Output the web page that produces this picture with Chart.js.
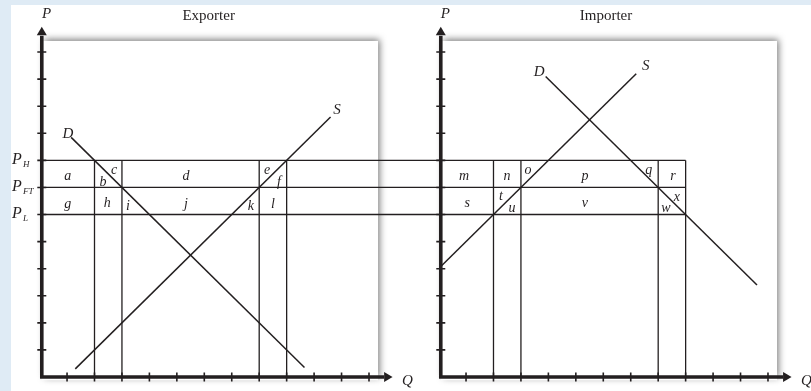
<!DOCTYPE html>
<html lang="en">
<head>
<meta charset="UTF-8" />
<title>Exporter / Importer</title>
<style>
  html, body { margin: 0; padding: 0; background: #dfebf5; }
  canvas { display: block; }
</style>
</head>
<body>
<canvas id="tradeChart" width="811" height="391"></canvas>

<script src="https://cdn.jsdelivr.net/npm/chart.js"></script>
<script>
  // price levels and their subscripts
  const priceNames = ['H', 'FT', 'L'];
  const priceLevels = [8, 7, 6];
  // quantities where the vertical lines stand (same in both markets)
  const cutQuantities = [2, 3, 8, 9];
  const tickCount = 12;

  // curve end points [Q, P]
  const exporterDemand = [[1.15, 8.85], [9.65, 0.35]];
  const exporterSupply = [[1.3, 0.3], [10.6, 9.6]];
  const importerDemand = [[3.9, 11.1], [11.6, 3.4]];
  const importerSupply = [[0.08, 4.08], [7.2, 11.2]];

  // area letters [letter, Q, P]
  const exporterAreas = [
    ['a', 1.03, 7.42], ['b', 2.31, 7.2], ['c', 2.71, 7.64], ['d', 5.33, 7.42],
    ['e', 8.29, 7.64], ['f', 8.72, 7.2], ['g', 1.03, 6.39], ['h', 2.46, 6.43],
    ['i', 3.22, 6.31], ['j', 5.33, 6.39], ['k', 7.7, 6.31], ['l', 8.5, 6.39]
  ];
  const importerAreas = [
    ['m', 0.93, 7.42], ['n', 2.49, 7.42], ['o', 3.26, 7.64], ['p', 5.33, 7.42],
    ['q', 7.66, 7.64], ['r', 8.54, 7.42], ['s', 1.04, 6.43], ['t', 2.27, 6.68],
    ['u', 2.67, 6.24], ['v', 5.33, 6.43], ['w', 8.28, 6.24], ['x', 8.68, 6.65]
  ];

  const INK = '#231f20';
  const SHIFT = 14.535;   // importer panel sits to the right of the exporter one
  const AXIS_Q = 0.08;    // thick axis line is a hair right of Q = 0

  const pts = (arr, s) => arr.map(([q, p]) => ({ x: q + s, y: p }));
  const line = (data, w) => ({
    data, showLine: true, borderColor: INK, borderWidth: w || 1.3,
    pointRadius: 0, fill: false
  });

  const datasets = [];
  // price lines run from the exporter axis through to the importer boxes
  priceLevels.forEach(p => {
    datasets.push(line([{ x: AXIS_Q, y: p }, { x: SHIFT + cutQuantities[3], y: p }]));
  });
  [0, SHIFT].forEach(s => {
    cutQuantities.forEach(q => {
      datasets.push(line([{ x: s + q, y: 0 }, { x: s + q, y: priceLevels[0] }]));
    });
  });
  datasets.push(line(pts(exporterDemand, 0), 1.5));
  datasets.push(line(pts(exporterSupply, 0), 1.5));
  datasets.push(line(pts(importerDemand, SHIFT), 1.5));
  datasets.push(line(pts(importerSupply, SHIFT), 1.5));

  const diagramPlugin = {
    id: 'diagram',
    beforeDatasetsDraw(chart) {
      const { ctx, scales: { x, y } } = chart;
      ctx.save();
      ctx.fillStyle = '#fff';
      ctx.fillRect(11, 5, 800, 386);
      ctx.shadowColor = 'rgba(0,0,0,0.55)';
      ctx.shadowBlur = 7;
      ctx.shadowOffsetX = 2;
      ctx.shadowOffsetY = -2;
      [0, SHIFT].forEach(s => {
        const l = x.getPixelForValue(s + AXIS_Q), r = x.getPixelForValue(s + 12.33);
        const t = y.getPixelForValue(12.41), b = y.getPixelForValue(-0.12);
        ctx.fillRect(l, t, r - l, b - t);
      });
      ctx.restore();
    },
    afterDatasetsDraw(chart) {
      const { ctx, scales: { x, y } } = chart;
      ctx.save();
      ctx.strokeStyle = INK;
      ctx.fillStyle = INK;
      [0, SHIFT].forEach(s => {
        const x0 = x.getPixelForValue(s + AXIS_Q), y0 = y.getPixelForValue(0);
        ctx.lineWidth = 3.6;
        ctx.beginPath();
        ctx.moveTo(x0, y0 + 1.8);
        ctx.lineTo(x0, y.getPixelForValue(12.6));
        ctx.moveTo(x0 - 1.8, y0);
        ctx.lineTo(x.getPixelForValue(s + 12.55), y0);
        ctx.stroke();
        // arrow heads
        const yt = y.getPixelForValue(12.93), yb = y.getPixelForValue(12.62);
        ctx.beginPath();
        ctx.moveTo(x0, yt); ctx.lineTo(x0 - 5, yb); ctx.lineTo(x0 + 5, yb); ctx.closePath();
        ctx.fill();
        const xt = x.getPixelForValue(s + 12.86), xb = x.getPixelForValue(s + 12.55);
        ctx.beginPath();
        ctx.moveTo(xt, y0); ctx.lineTo(xb, y0 - 5); ctx.lineTo(xb, y0 + 5); ctx.closePath();
        ctx.fill();
        // ticks
        ctx.lineWidth = 1.6;
        ctx.beginPath();
        for (let i = 1; i <= tickCount; i++) {
          const tx = x.getPixelForValue(s + i), ty = y.getPixelForValue(i);
          ctx.moveTo(tx, y0 - 4.5); ctx.lineTo(tx, y0 + 4.5);
          ctx.moveTo(x0 - 4.5, ty); ctx.lineTo(x0 + 4.5, ty);
        }
        ctx.stroke();
      });
      ctx.restore();
    },
    afterDraw(chart) {
      const { ctx, scales: { x, y } } = chart;
      const X = q => x.getPixelForValue(q), Y = p => y.getPixelForValue(p);
      ctx.save();
      ctx.fillStyle = INK;
      ctx.textAlign = 'center';
      ctx.textBaseline = 'middle';
      ctx.font = 'italic 14px "Liberation Serif"';
      exporterAreas.forEach(([t, q, p]) => ctx.fillText(t, X(q), Y(p)));
      importerAreas.forEach(([t, q, p]) => ctx.fillText(t, X(SHIFT + q), Y(p)));

      ctx.font = 'italic 15px "Liberation Serif"';
      ctx.fillText('D', X(1.03), Y(8.97));
      ctx.fillText('S', X(10.83), Y(9.86));
      ctx.fillText('D', X(SHIFT + 3.66), Y(11.26));
      ctx.fillText('S', X(SHIFT + 7.55), Y(11.48));
      ctx.fillText('P', X(0.25), Y(13.4));
      ctx.fillText('P', X(SHIFT + 0.25), Y(13.4));
      ctx.fillText('Q', X(13.4), Y(-0.15));
      ctx.fillText('Q', X(SHIFT + 13.4), Y(-0.15));

      ctx.font = '15px "Liberation Serif"';
      ctx.fillText('Exporter', X(6.16), Y(13.33));
      ctx.fillText('Importer', X(SHIFT + 6.1), Y(13.33));

      // P_H, P_FT, P_L
      priceLevels.forEach((p, i) => {
        ctx.textAlign = 'left';
        ctx.font = 'italic 16px "Liberation Serif"';
        ctx.fillText('P', 12, Y(p) - 1);
        ctx.font = 'italic 9px "Liberation Serif"';
        ctx.fillText(priceNames[i], 23, Y(p) + 4);
      });
      ctx.restore();
    }
  };

  new Chart(document.getElementById('tradeChart').getContext('2d'), {
    type: 'scatter',
    data: { datasets },
    options: {
      responsive: false,
      animation: false,
      layout: { padding: 0 },
      plugins: { legend: { display: false }, tooltip: { enabled: false } },
      scales: {
        x: { type: 'linear', display: false, min: -1.4426, max: 28.102 },
        y: { type: 'linear', display: false, min: -0.517, max: 13.922 }
      }
    },
    plugins: [diagramPlugin]
  });
</script>
</body>
</html>
